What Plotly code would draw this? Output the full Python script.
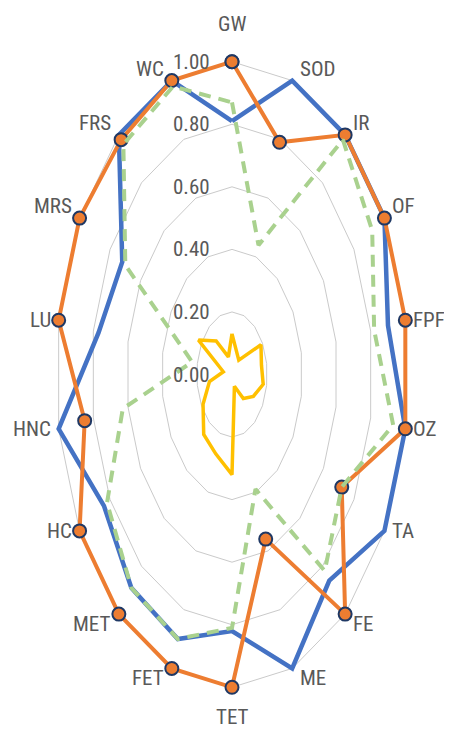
import numpy as np
import plotly.graph_objects as go

categories = ["GW", "SOD", "IR", "OF", "FPF", "OZ", "TA", "FE", "ME", "TET",
              "FET", "MET", "HC", "HNC", "LU", "MRS", "FRS", "WC"]
series_blue = [0.81, 1.00, 1.00, 1.00, 0.90, 1.00, 1.00, 0.86, 1.00, 0.82,
               0.90, 0.89, 0.84, 1.00, 0.77, 0.72, 1.00, 1.00]
series_orange = [1.00, 0.79, 1.00, 1.00, 1.00, 1.00, 0.72, 1.00, 0.56, 1.00,
                 1.00, 1.00, 1.00, 0.85, 1.00, 1.00, 0.98, 1.00]
series_green = [0.87, 0.44, 0.98, 0.92, 0.82, 0.93, 0.72, 0.82, 0.39, 0.81,
                0.90, 0.89, 0.82, 0.63, 0.23, 0.70, 0.96, 0.98]
series_yellow = [0.13, 0.08, 0.06, 0.19, 0.17, 0.18, 0.14, 0.10, 0.04, 0.32,
                 0.27, 0.25, 0.19, 0.13, 0.05, 0.22, 0.14, 0.06]
tick_values = [0.0, 0.2, 0.4, 0.6, 0.8, 1.0]
tick_labels = ["0.00", "0.20", "0.40", "0.60", "0.80", "1.00"]

W, H = 452, 741
PAGE_OFFSET = 8           # default body margin of the html page
CX, CY = 232 - PAGE_OFFSET, 374.5 - PAGE_OFFSET   # centre of the radar (figure px)
RX, RY = 176, 312.8       # pixels per unit radius (chart is stretched vertically)

n = len(categories)
theta = np.deg2rad(np.arange(n) * 360.0 / n)   # clockwise from top
sin_t, cos_t = np.sin(theta), np.cos(theta)


def to_xy(vals, close=True):
    r = np.asarray(vals, dtype=float)
    x, y = r * sin_t, r * cos_t
    if close:
        x, y = np.append(x, x[0]), np.append(y, y[0])
    return x, y


TEXT = "#595959"
FONT = "Liberation Sans Narrow, Roboto Condensed, Lato, sans-serif"
FS = 21

fig = go.Figure()

# ring gridlines (polygons)
for tv in tick_values[1:]:
    gx, gy = to_xy([tv] * n)
    fig.add_trace(go.Scatter(x=gx, y=gy, mode="lines", hoverinfo="skip",
                             line=dict(color="#CACACA", width=1),
                             showlegend=False))

bx, by = to_xy(series_blue)
fig.add_trace(go.Scatter(x=bx, y=by, mode="lines", name="Series 1",
                         line=dict(color="#4472C4", width=4.5),
                         showlegend=False))

ox, oy = to_xy(series_orange)
fig.add_trace(go.Scatter(x=ox, y=oy, mode="lines+markers", name="Series 2",
                         line=dict(color="#ED7D31", width=4),
                         marker=dict(size=13, color="#ED7D31",
                                     line=dict(color="#1F3864", width=2)),
                         showlegend=False))

gx_, gy_ = to_xy(series_green)
fig.add_trace(go.Scatter(x=gx_, y=gy_, mode="lines", name="Series 3",
                         line=dict(color="#A9D18E", width=4, dash="12px,8px"),
                         showlegend=False))

yx, yy = to_xy(series_yellow)
fig.add_trace(go.Scatter(x=yx, y=yy, mode="lines", name="Series 4",
                         line=dict(color="#FFC000", width=3.5),
                         showlegend=False))

annotations = []
# value axis labels along the vertical spoke
for tv, tl in zip(tick_values, tick_labels):
    annotations.append(dict(x=0, y=tv, xref="x", yref="y", text=tl,
                            showarrow=False, xanchor="right", yanchor="middle",
                            xshift=-20, font=dict(size=FS, color=TEXT, family=FONT)))

# category labels
for i, cat in enumerate(categories):
    s, c = sin_t[i], cos_t[i]
    if abs(s) < 0.01:
        xa, xs = "center", 0
    elif s > 0:
        xa, xs = "left", 6
    else:
        xa, xs = "right", -6
    if c > 0.99:
        ya, ys = "bottom", 24
    elif c < -0.99:
        ya, ys = "top", -16
    elif c >= 0.45:
        ya, ys = "bottom", -2
    elif c <= -0.7:
        ya, ys = "top", 4
    else:
        ya, ys = "middle", 0
    annotations.append(dict(x=s, y=c, xref="x", yref="y", text=cat,
                            showarrow=False, xanchor=xa, yanchor=ya,
                            xshift=xs, yshift=ys,
                            font=dict(size=FS, color=TEXT, family=FONT)))

fig.update_layout(
    width=W, height=H, autosize=False,
    margin=dict(l=0, r=0, t=0, b=0),
    paper_bgcolor="white", plot_bgcolor="white",
    xaxis=dict(range=[-CX / RX, (W - CX) / RX], visible=False, fixedrange=True),
    yaxis=dict(range=[(CY - H) / RY, CY / RY], visible=False, fixedrange=True),
    annotations=annotations,
    showlegend=False,
)

fig.write_html("out.html")
